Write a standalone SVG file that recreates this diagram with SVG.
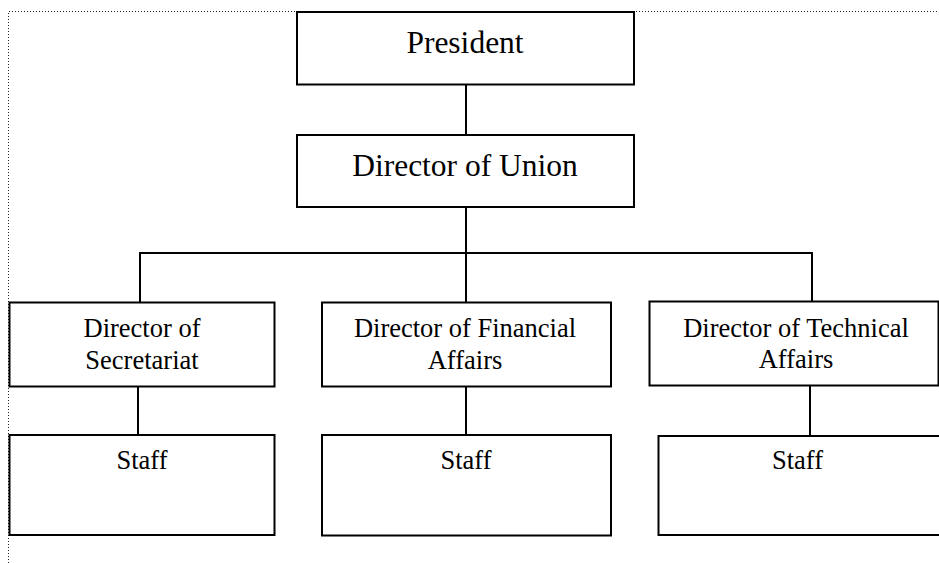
<svg xmlns="http://www.w3.org/2000/svg" width="939" height="563" viewBox="0 0 939 563">
  <style>
    .box { fill: #ffffff; stroke: #000000; stroke-width: 2; }
    .link { fill: none; stroke: #000000; stroke-width: 2; }
    .frame { fill: none; stroke: #222222; stroke-width: 1; stroke-dasharray: 1 2; }
    text { font-family: "Liberation Serif", "Times New Roman", serif; fill: #000000; text-anchor: middle; }
    .big { font-size: 31.5px; }
    .small { font-size: 26.5px; }
  </style>

  <!-- page frame -->
  <path class="frame" d="M8.5 563 V11.5 H939"/>

  <!-- connectors -->
  <g id="connectors">
    <line class="link" x1="466" y1="85" x2="466" y2="135"/>
    <line class="link" x1="466" y1="207" x2="466" y2="253"/>
    <path class="link" d="M140 302 V253 H812 V301"/>
    <line class="link" x1="466" y1="253" x2="466" y2="302"/>
    <line class="link" x1="138" y1="386" x2="138" y2="435"/>
    <line class="link" x1="466" y1="386" x2="466" y2="435"/>
    <line class="link" x1="810" y1="386" x2="810" y2="436"/>
  </g>

  <g id="president">
    <rect class="box" x="297" y="12" width="337" height="72.5"/>
    <text class="big" x="465" y="53">President</text>
  </g>

  <g id="director-union">
    <rect class="box" x="297" y="135" width="337" height="72"/>
    <text class="big" x="465" y="176">Director of Union</text>
  </g>

  <g id="director-secretariat">
    <rect class="box" x="9.5" y="302.5" width="265" height="84"/>
    <text class="small" x="142" y="337">Director of</text>
    <text class="small" x="142" y="369">Secretariat</text>
  </g>

  <g id="director-financial">
    <rect class="box" x="322" y="302.5" width="289" height="84"/>
    <text class="small" x="465" y="337">Director of Financial</text>
    <text class="small" x="465" y="369">Affairs</text>
  </g>

  <g id="director-technical">
    <rect class="box" x="649.5" y="301.5" width="289" height="84"/>
    <text class="small" x="796" y="337">Director of Technical</text>
    <text class="small" x="796" y="368">Affairs</text>
  </g>

  <g id="staff-secretariat">
    <rect class="box" x="9.5" y="435" width="265" height="100"/>
    <text class="small" x="142" y="469">Staff</text>
  </g>

  <g id="staff-financial">
    <rect class="box" x="322" y="435" width="289" height="100.5"/>
    <text class="small" x="466" y="468.5">Staff</text>
  </g>

  <g id="staff-technical">
    <rect class="box" x="658.5" y="436" width="284" height="99"/>
    <text class="small" x="797.5" y="468.5">Staff</text>
  </g>
</svg>
